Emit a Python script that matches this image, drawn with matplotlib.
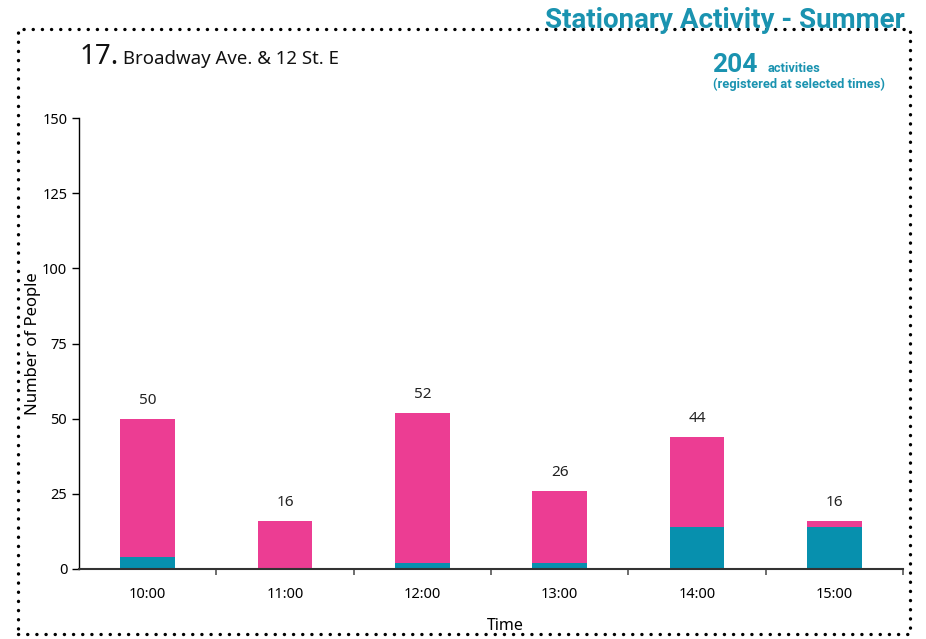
import matplotlib.pyplot as plt
from matplotlib.patches import Rectangle

times = ["10:00", "11:00", "12:00", "13:00", "14:00", "15:00"]
teal_vals = [4, 0, 2, 2, 14, 14]
pink_vals = [46, 16, 50, 24, 30, 2]
totals = [t + p for t, p in zip(teal_vals, pink_vals)]
total_activities = 204

pink = "#ec3d93"
teal = "#0790ae"
title_teal = "#1a93b0"

plt.rcParams['font.family'] = ['Noto Sans', 'DejaVu Sans']

fig = plt.figure(figsize=(9.26, 6.39), dpi=100)
ax = fig.add_axes([79 / 926, 1 - 569 / 639, 824 / 926, 451 / 639])

x = range(len(times))
ax.bar(x, teal_vals, width=0.4, color=teal)
ax.bar(x, pink_vals, width=0.4, bottom=teal_vals, color=pink)

for i, tot in enumerate(totals):
    ax.annotate(str(tot), (i, tot), xytext=(0, 8), textcoords="offset points",
                ha="center", va="bottom", fontsize=11, color="#222222")

ax.set_xlim(-0.5, len(times) - 0.5)
ax.set_ylim(0, 150)
ax.set_yticks(range(0, 151, 25))
ax.set_xticks(x)
ax.set_xticklabels(times)
ax.set_xticks([i + 0.5 for i in range(len(times))], minor=True)
ax.tick_params(axis="x", which="major", length=0, pad=13, labelsize=10.5)
ax.tick_params(axis="x", which="minor", length=4, width=1.2, color="#555555")
ax.tick_params(axis="y", length=5, width=1, labelsize=10.5)

for s in ["top", "right"]:
    ax.spines[s].set_visible(False)
ax.spines["bottom"].set_color("#333333")
ax.spines["bottom"].set_linewidth(1.5)
ax.spines["left"].set_linewidth(1)

ax.set_ylabel("Number of People", fontsize=12)
ax.yaxis.set_label_coords(-0.046, 0.5)
ax.set_xlabel("Time", fontsize=11.5)
ax.xaxis.set_label_coords(0.517, -0.108)

# dotted frame
fig.patches.append(Rectangle((18 / 926, 1 - 634 / 639), 892 / 926, 605 / 639,
                             transform=fig.transFigure, fill=False, edgecolor="black",
                             linewidth=2.4, linestyle=(0, (0.05, 2.7)),
                             capstyle="round", zorder=5))

fig.text(905 / 926, 1 - 28 / 639, "Stationary Activity - Summer", ha="right",
         va="baseline", fontsize=20, fontweight="bold", color=title_teal,
         family=["Roboto", "DejaVu Sans"], zorder=6)

fig.text(80 / 926, 1 - 64 / 639, "17.", fontsize=20, va="baseline", color="#111111")
fig.text(123 / 926, 1 - 64 / 639, "Broadway Ave. & 12 St. E", fontsize=13.4,
         va="baseline", color="#111111")

fig.text(712 / 926, 1 - 72 / 639, str(total_activities), fontsize=19, fontweight="bold",
         color=title_teal, va="baseline", family=["Roboto", "DejaVu Sans"])
fig.text(768 / 926, 1 - 72 / 639, "activities", fontsize=9.3, fontweight="bold",
         color=title_teal, va="baseline", family=["Roboto", "DejaVu Sans"])
fig.text(885 / 926, 1 - 88 / 639, "(registered at selected times)", fontsize=9.3,
         fontweight="bold", color=title_teal, va="baseline", ha="right",
         family=["Roboto", "DejaVu Sans"])

fig.savefig("out.png", dpi=100)
